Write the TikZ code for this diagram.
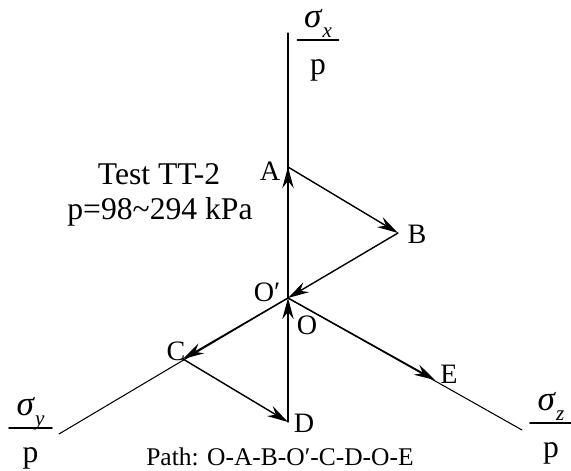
\documentclass[tikz,border=0pt]{standalone}
\usepackage{fontspec}
\setmainfont{Liberation Serif}
\usetikzlibrary{arrows.meta}
\newcommand{\sgm}[1]{{\fontsize{20}{22}\selectfont\textit{σ}}\raisebox{-0.3em}{\fontsize{12}{13}\selectfont\textit{#1}}}

\begin{document}
\begin{tikzpicture}[>={Stealth[length=12pt,width=6.5pt,inset=4pt]}, line cap=round, line join=round,
		axis/.style={line width=0.6pt},
		leg/.style={line width=0.8pt, ->},
		ptlabel/.style={font=\fontsize{16}{18}\selectfont, inner sep=0pt},
		bigtext/.style={font=\fontsize{18}{20}\selectfont, inner sep=0pt, anchor=base},
		pathtext/.style={font=\fontsize{14.5}{17}\selectfont, inner sep=0pt, anchor=base},
		fracbar/.style={line width=1pt}]
	\useasboundingbox (-5.76,-3.46) rectangle (5.66,5.96);

	% (1) Truc toa do
	\coordinate (O) at (0,0);
	\coordinate (xtop) at (0,5.3);
	\coordinate (yend) at (-4.58,-2.72);
	\coordinate (zend) at (4.68,-2.64);
	\draw[axis] (O) -- (xtop);
	\draw[axis] (O) -- (yend);
	\draw[axis] (O) -- (zend);

	% (2) Duong ung suat
	\coordinate (A) at (0,2.62);
	\coordinate (B) at (2.2,1.3);
	\coordinate (C) at (-2.1,-1.22);
	\coordinate (D) at (0,-2.48);
	\coordinate (E) at (2.94,-1.64);
	\draw[leg] (O) -- (A);
	\draw[leg] (A) -- (B);
	\draw[leg] (B) -- (O);
	\draw[leg] (O) -- (C);
	\draw[leg] (C) -- (D);
	\draw[leg] (D) -- (O);
	\draw[leg] (O) -- (E);

	\node[ptlabel] (labA) at (-0.36,2.54) {A};
	\node[ptlabel] (labB) at (2.58,1.27) {B};
	\node[ptlabel] (labOp) at (-0.42,0.12) {O′};
	\node[ptlabel] (labO) at (0.38,-0.54) {O};
	\node[ptlabel] (labC) at (-2.24,-1.06) {C};
	\node[ptlabel] (labD) at (0.32,-2.5) {D};
	\node[ptlabel] (labE) at (3.22,-1.52) {E};

	% (3) Ten truc
	\begin{scope}[shift={(0.6,5.16)}]
		\draw[fracbar] (-0.41,0) -- (0.41,0);
		\node[bigtext] (sigx) at (0,0.24) {\sgm{x}};
		\node[bigtext] (px) at (0,-0.7) {p};
	\end{scope}
	\begin{scope}[shift={(-5.15,-2.6)}]
		\draw[fracbar] (-0.43,0) -- (0.43,0);
		\node[bigtext] (sigy) at (0,0.24) {\sgm{y}};
		\node[bigtext] (py) at (0,-0.7) {p};
	\end{scope}
	\begin{scope}[shift={(5.26,-2.5)}]
		\draw[fracbar] (-0.42,0) -- (0.42,0);
		\node[bigtext] (sigz) at (0,0.24) {\sgm{z}};
		\node[bigtext] (pz) at (0,-0.7) {p};
	\end{scope}

	% (4) Chu thich
	\node[bigtext] (testname) at (-2.58,2.26) {Test TT-2};
	\node[bigtext] (prange) at (-2.56,1.56) {p=98\textasciitilde294 kPa};
	\node[pathtext] (pathname) at (-0.16,-3.36) {Path: O-A-B-O′-C-D-O-E};
\end{tikzpicture}
\end{document}
